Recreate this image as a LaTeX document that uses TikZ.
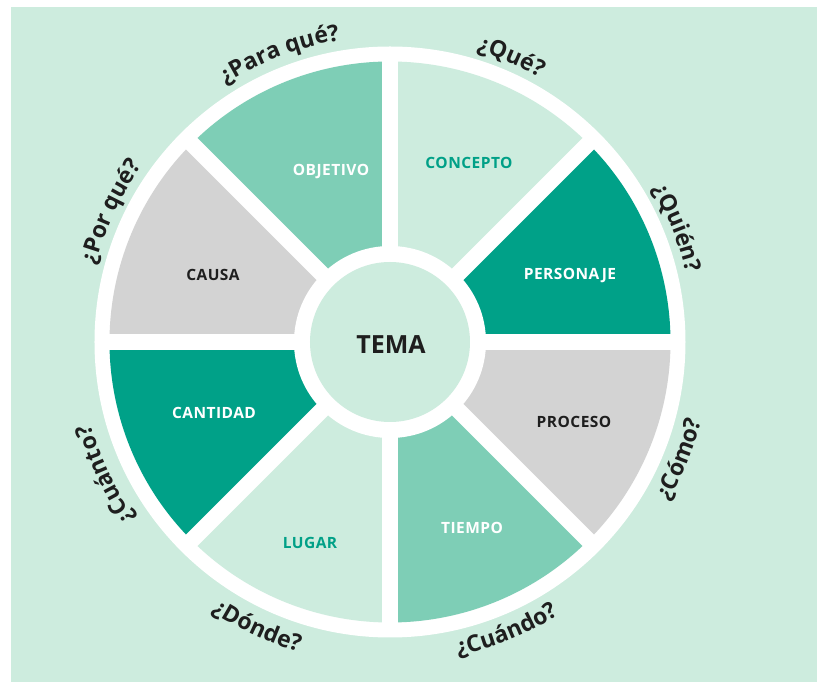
\documentclass[tikz,border=0pt]{standalone}
\usepackage{fontspec}
\setmainfont{Open Sans}
\usetikzlibrary{decorations.text}
\definecolor{bggreen}{RGB}{205,236,222}
\definecolor{lightsec}{RGB}{205,236,222}
\definecolor{midsec}{RGB}{126,206,182}
\definecolor{darksec}{RGB}{0,161,136}
\definecolor{graysec}{RGB}{211,211,211}
\definecolor{tealtext}{RGB}{0,160,135}
\definecolor{darktext}{RGB}{30,30,30}
\newcommand\qfmt{\bfseries\fontsize{23}{27}\selectfont\color{darktext}}
\newcommand\toplabel[3]{%
  \path[decorate, decoration={text along path, text align=center, text={|\qfmt|#3}}]
    ({#1+40}:#2) arc[start angle={#1+40}, end angle={#1-40}, radius=#2];}
\newcommand\botlabel[3]{%
  \path[decorate, decoration={text along path, text align=center, text={|\qfmt|#3}}]
    ({#1-40}:#2) arc[start angle={#1-40}, end angle={#1+40}, radius=#2];}
\tikzset{
  seclabel/.style={font=\bfseries\fontsize{15.5}{17}\selectfont\addfontfeature{LetterSpace=3}, inner sep=0pt},
  sector/.style={draw=none}
}
\begin{document}
\begin{tikzpicture}[x=1pt,y=1pt]
\useasboundingbox (-390,342) rectangle (427,-340);
\fill[white] (-390,342) rectangle (427,-340);
\fill[bggreen] (-379,335) rectangle (427,-340);
% outer white disc
\fill[white] (0,0) circle[radius=295.5];
% sectors
\foreach \a/\c in {0/darksec,45/lightsec,90/midsec,135/graysec,180/darksec,225/lightsec,270/midsec,315/graysec}{
  \fill[\c] (0,0) -- (\a:280.5) arc[start angle=\a, end angle=\a+45, radius=280.5] -- cycle;
}
% white gaps
\foreach \a in {0,45,90,135}{
  \draw[white, line width=16pt] (\a:285) -- (\a+180:285);
}
\fill[white] (0,0) circle[radius=96];
\fill[lightsec] (0,0) circle[radius=80];
\node[font=\bfseries\fontsize{25}{27}\selectfont, text=darktext] (tema) at (1,-3) {TEMA};
% sector labels
\node[seclabel, text=tealtext] (concepto) at (79,179) {CONCEPTO};
\node[seclabel, text=white] (objetivo) at (-59,170) {OBJETIVO};
\node[seclabel, text=white] (personaje) at (180,66) {PERSONAJE};
\node[seclabel, text=darktext] (causa) at (-177,67) {CAUSA};
\node[seclabel, text=white] (cantidad) at (-176,-71) {CANTIDAD};
\node[seclabel, text=darktext] (proceso) at (184,-80) {PROCESO};
\node[seclabel, text=tealtext] (lugar) at (-80,-201) {LUGAR};
\node[seclabel, text=white] (tiempo) at (82,-186) {TIEMPO};
% outer question labels
\toplabel{111}{306}{¿Para qué?}
\toplabel{67}{304}{¿Qué?}
\toplabel{21.7}{304}{¿Quién?}
\toplabel{155}{304}{¿Por qué?}
\toplabel{205}{310}{¿Cuánto?}
\botlabel{-22}{321}{¿Cómo?}
\botlabel{-68}{321}{¿Cuándo?}
\botlabel{245}{323}{¿Dónde?}
\end{tikzpicture}
\end{document}
